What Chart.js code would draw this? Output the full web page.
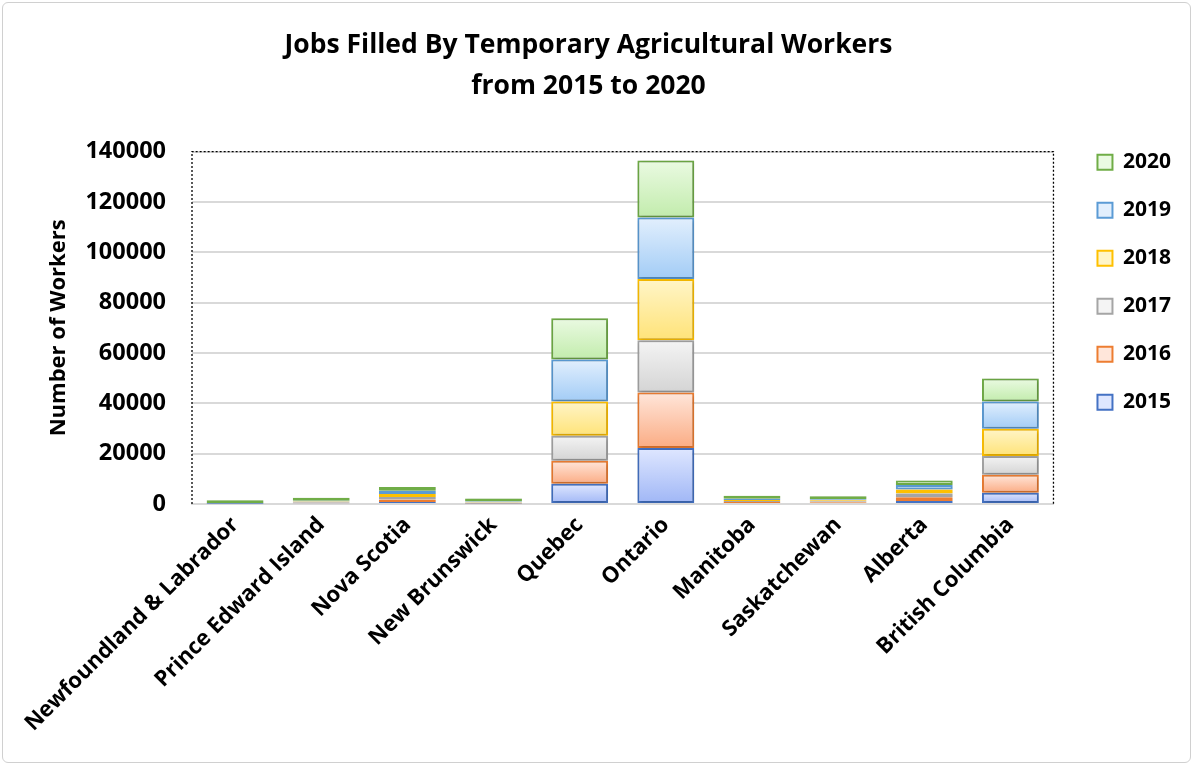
<!DOCTYPE html>
<html>
<head>
<meta charset="utf-8">
<script src="https://cdn.jsdelivr.net/npm/chart.js@4"></script>
<style>
html,body{margin:0;padding:0;background:#fff;}
#wrap{position:absolute;left:2px;top:2px;width:1189px;height:761px;border:1px solid #d0d0d0;border-radius:6px;box-sizing:border-box;background:#fff;}
canvas{display:block;}
</style>
</head>
<body>
<div id="wrap"><canvas id="c"></canvas></div>
<script>
const categories = ["Newfoundland & Labrador","Prince Edward Island","Nova Scotia","New Brunswick","Quebec","Ontario","Manitoba","Saskatchewan","Alberta","British Columbia"];
const years = ["2015","2016","2017","2018","2019","2020"];
const v2015 = [50, 250, 800, 200, 8000, 22300, 400, 350, 1200, 4500];
const v2016 = [50, 250, 1000, 200, 9200, 22000, 400, 350, 1500, 7100];
const v2017 = [50, 250, 1000, 200, 9900, 20800, 400, 350, 1500, 7500];
const v2018 = [50, 250, 1200, 200, 13600, 24300, 400, 400, 1600, 10800];
const v2019 = [50, 250, 1300, 200, 16700, 24400, 450, 400, 1700, 10800];
const v2020 = [50, 250, 1500, 200, 16400, 22700, 450, 400, 1800, 9200];
const yTicks = [0,20000,40000,60000,80000,100000,120000,140000];

const series = [v2015, v2016, v2017, v2018, v2019, v2020];
const borders = ["#4472C4","#ED7D31","#A5A5A5","#FFC000","#5B9BD5","#70AD47"];
const topCols = ["#dfe7ff","#ffe6da","#f4f4f4","#fff5c8","#e2effd","#eafae2"];
const botCols = ["#9fb6f6","#fbac84","#d4d4d4","#ffe378","#a2ccf6","#c2ecac"];

const FONT = "'Open Sans'";

function gradFor(di){
  return function(ctx){
    const chart = ctx.chart;
    const y = chart.scales && chart.scales.y;
    if (!y || ctx.type !== 'data' || !chart.chartArea) return topCols[di];
    const i = ctx.dataIndex;
    let base = 0;
    for (let k=0;k<di;k++) base += series[k][i];
    const top = base + series[di][i];
    const y0 = y.getPixelForValue(base), y1 = y.getPixelForValue(top);
    if (!isFinite(y0) || !isFinite(y1) || y0===y1) return botCols[di];
    const g = chart.ctx.createLinearGradient(0, y1, 0, y0);
    g.addColorStop(0, topCols[di]);
    g.addColorStop(1, botCols[di]);
    return g;
  };
}

const datasets = years.map((yr, di) => ({
  label: yr,
  data: series[di],
  backgroundColor: gradFor(di),
  borderColor: borders[di],
  borderWidth: 2,
  borderSkipped: false,
  minBarLength: di === 5 ? 3 : 0,
  categoryPercentage: 0.66,
  barPercentage: 1.0
}));

const plotFrame = {
  id: 'plotFrame',
  afterLayout(chart){
    const lg = chart.legend;
    if (lg) { lg.left += 17; lg.right += 17; lg.top -= 27; lg.bottom -= 27; }
  },
  beforeDatasetsDraw(chart){
    const {ctx, chartArea:a} = chart;
    ctx.save();
    ctx.strokeStyle = '#000';
    ctx.lineWidth = 1.3;
    ctx.setLineDash([2,2]);
    ctx.beginPath();
    ctx.moveTo(a.left, a.bottom);
    ctx.lineTo(a.left, a.top);
    ctx.lineTo(a.right, a.top);
    ctx.lineTo(a.right, a.bottom);
    ctx.stroke();
    ctx.restore();
    ctx.save();
    ctx.shadowColor = 'rgba(0,0,0,0.25)';
    ctx.shadowBlur = 4;
    ctx.shadowOffsetX = 1;
    ctx.shadowOffsetY = 1;
  },
  afterDatasetsDraw(chart){
    chart.ctx.restore();
  }
};

new Chart(document.getElementById('c'), {
  type: 'bar',
  data: { labels: categories, datasets },
  options: {
    responsive: true,
    maintainAspectRatio: false,
    animation: false,
    layout: { padding: { left: 10, right: 26, top: 0, bottom: 0 } },
    scales: {
      x: {
        stacked: true,
        afterFit(axis){ axis.height = 258; },
        grid: { display: false, drawTicks: false },
        border: { color: '#d9d9d9', width: 2 },
        ticks: {
          maxRotation: 45, minRotation: 45, autoSkip: false,
          color: '#000', padding: 8,
          font: { family: FONT, size: 22, weight: 'bold' }
        }
      },
      y: {
        stacked: true,
        min: 0, max: 140000,
        afterFit(axis){ axis.width = 179; },
        afterBuildTicks(axis){ axis.ticks = yTicks.map(v => ({value: v})); },
        grid: { color: '#d9d9d9', lineWidth: 2, drawTicks: false },
        border: { display: false },
        ticks: {
          color: '#000', padding: 26,
          font: { family: FONT, size: 23.5, weight: 'bold' },
          callback: (v) => String(v)
        },
        title: {
          display: true, text: 'Number of Workers', color: '#000',
          font: { family: FONT, size: 22, weight: 'bold' }, padding: { top: 33, bottom: 0 }
        }
      }
    },
    plugins: {
      title: {
        display: true,
        text: ['Jobs Filled By Temporary Agricultural Workers', 'from 2015 to 2020'],
        color: '#000',
        font: { family: FONT, size: 26.5, weight: 'bold', lineHeight: 1.55 },
        padding: { top: 21.5, bottom: 45 }
      },
      legend: {
        position: 'right',
        reverse: true,
        align: 'start',
        fullSize: false,
        labels: {
          color: '#000',
          boxWidth: 15, boxHeight: 15,
          padding: 27,
          font: { family: FONT, size: 21, weight: 'bold' },
          generateLabels(chart){
            return years.map((yr, di) => ({
              text: yr, fillStyle: topCols[di], strokeStyle: borders[di], lineWidth: 2,
              datasetIndex: di, hidden: false, fontColor: '#000'
            }));
          }
        }
      },
      tooltip: { enabled: false }
    }
  },
  plugins: [plotFrame]
});
</script>
</body>
</html>
